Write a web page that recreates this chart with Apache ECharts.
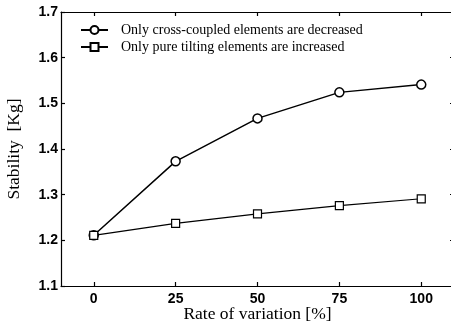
<!DOCTYPE html>
<html>
<head>
<meta charset="utf-8">
<script src="https://cdn.jsdelivr.net/npm/echarts@6/dist/echarts.min.js"></script>
<style>
  html, body { margin: 0; padding: 0; background: #fff; }
  #chart { width: 451px; height: 325px; }
</style>
</head>
<body>
<div id="chart"></div>
<script>
// Rate of variation [%] on the horizontal axis
const rates = [0, 25, 50, 75, 100];
// Stability [Kg] for each scenario
const crossCoupledDecreased = [1.211, 1.373, 1.467, 1.524, 1.541];
const pureTiltingIncreased = [1.211, 1.237, 1.258, 1.276, 1.291];
const seriesNames = ['Only cross-coupled elements are decreased', 'Only pure tilting elements are increased'];
const yTicks = [1.1, 1.2, 1.3, 1.4, 1.5, 1.6, 1.7];

const tickFont = { fontFamily: 'Liberation Sans, Arial, sans-serif', fontWeight: 'bold', fontSize: 14, color: '#000' };
const serif = 'Liberation Serif, Times New Roman, serif';

const chart = echarts.init(document.getElementById('chart'));
const pair = (arr) => rates.map((r, i) => [r, arr[i]]);

const axisLine = { show: true, onZero: false, lineStyle: { color: '#000', width: 1.2 } };
const tick = { show: true, inside: true, length: 4, lineStyle: { color: '#000', width: 1.2 } };

chart.setOption({
  animation: false,
  backgroundColor: '#fff',
  grid: { left: 61, right: -3, top: 12, bottom: 39, outerBoundsMode: 'none', containLabel: false },
  legend: {
    left: 75, top: 18, orient: 'vertical', itemGap: 3,
    itemWidth: 27, itemHeight: 10,
    textStyle: { fontFamily: serif, fontSize: 14, color: '#000', padding: [0, 0, 0, 8] },
    data: seriesNames
  },
  xAxis: [
    {
      type: 'value', min: -10, max: 110, position: 'bottom',
      name: 'Rate of variation [%]', nameLocation: 'middle', nameGap: 19, nameMoveOverlap: false,
      nameTextStyle: { fontFamily: serif, fontSize: 17.5, color: '#000' },
      axisLine, axisTick: Object.assign({ customValues: rates }, tick),
      axisLabel: Object.assign({ customValues: rates, margin: 6 }, tickFont),
      splitLine: { show: false }
    },
    {
      type: 'value', min: -10, max: 110, position: 'top',
      axisLine, axisTick: Object.assign({ customValues: rates }, tick),
      axisLabel: { show: false }, splitLine: { show: false }
    }
  ],
  yAxis: [
    {
      type: 'value', min: 1.1, max: 1.7, position: 'left',
      name: 'Stability  [Kg]', nameLocation: 'middle', nameGap: 38, nameMoveOverlap: false,
      nameTextStyle: { fontFamily: serif, fontSize: 17.5, color: '#000' },
      axisLine, axisTick: Object.assign({ customValues: yTicks }, tick),
      axisLabel: Object.assign({ customValues: yTicks, margin: 3, formatter: (v) => v.toFixed(1) }, tickFont),
      splitLine: { show: false }
    },
    {
      type: 'value', min: 1.1, max: 1.7, position: 'right',
      axisLine, axisTick: Object.assign({ customValues: yTicks }, tick),
      axisLabel: { show: false }, splitLine: { show: false }
    }
  ],
  series: [
    {
      name: seriesNames[0], type: 'line', data: pair(crossCoupledDecreased),
      symbol: 'circle', symbolSize: 9, showAllSymbol: true,
      lineStyle: { color: '#000', width: 1.5 },
      itemStyle: { color: '#fff', borderColor: '#000', borderWidth: 1.5 }
    },
    {
      name: seriesNames[1], type: 'line', data: pair(pureTiltingIncreased),
      symbol: 'rect', symbolSize: 8, showAllSymbol: true,
      lineStyle: { color: '#000', width: 1.2 },
      itemStyle: { color: '#fff', borderColor: '#000', borderWidth: 1.2 }
    }
  ]
});
</script>
</body>
</html>
